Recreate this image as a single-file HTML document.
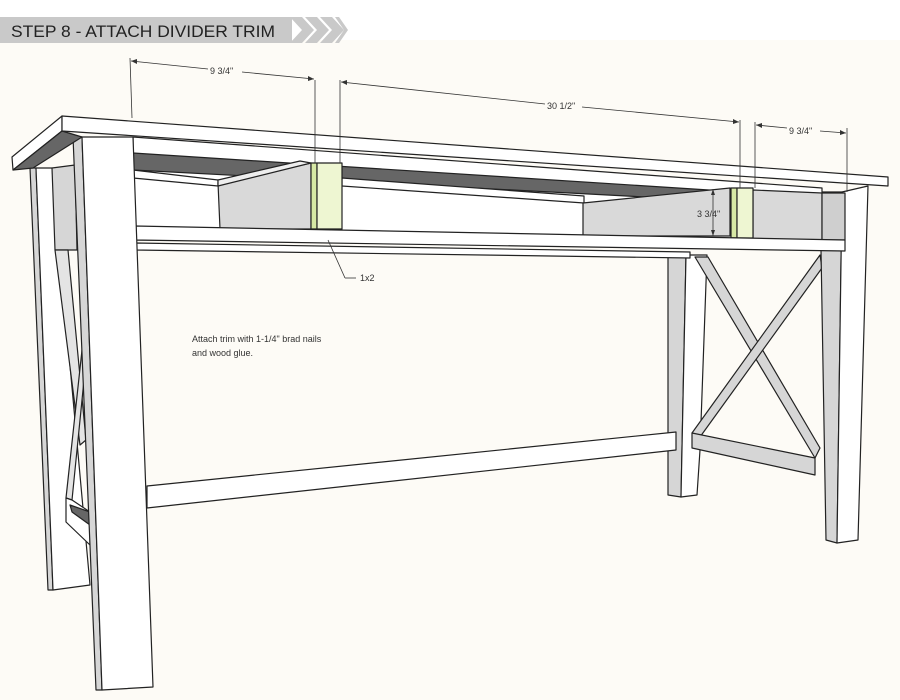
<!DOCTYPE html>
<html><head><meta charset="utf-8"><style>
html,body{margin:0;padding:0;background:#fff}
svg{display:block}
text{font-family:"Liberation Sans",sans-serif}
</style></head><body>
<svg width="900" height="700" viewBox="0 0 900 700" xmlns="http://www.w3.org/2000/svg">
<rect x="0" y="0" width="900" height="700" fill="#fdfbf6"/>
<rect x="0" y="0" width="900" height="40" fill="#ffffff"/>
<!-- banner -->
<rect x="0" y="17" width="292" height="26" fill="#c9c9c9"/>
<g fill="#c9c9c9">
<polygon points="290,17 302,17 314,30 302,43 290,43 302,30"/>
<polygon points="305,17 317,17 329,30 317,43 305,43 317,30"/>
<polygon points="320,17 332,17 344,30 332,43 320,43 332,30"/>
<polygon points="335,17 339,17 348,30 339,43 335,43 344,30"/>
</g>
<text x="11" y="37" font-size="17" fill="#222" textLength="264" lengthAdjust="spacingAndGlyphs">STEP 8 - ATTACH DIVIDER TRIM</text>

<g stroke="#222" stroke-width="1.2" stroke-linejoin="round">
<!-- back left leg -->
<polygon points="30,168 36,168 53,590 48,590" fill="#d6d6d6"/>
<polygon points="36,168 52,168 90,585 53,590" fill="#fff"/>
<polygon points="52,168 75,165 77,250 55,250" fill="#d6d6d6"/>
<!-- left X brace -->
<polygon points="55,250 68,250 86,440 80,445" fill="#e4e4e4"/>
<polygon points="82,350 86,360 72,500 66,498" fill="#e4e4e4"/>
<polygon points="66,498 72,500 90,512 90,545 66,522" fill="#fff"/>
<polygon points="70,505 90,512 90,525 72,512" fill="#666"/>
<!-- right middle leg -->
<polygon points="668,255 686,255 681,497 668,495" fill="#d6d6d6"/>
<polygon points="686,255 707,255 700,450 697,495 681,497" fill="#fff"/>
<!-- right X -->
<polygon points="695,257 708,257 820,448 815,458" fill="#d6d6d6"/>
<polygon points="820,255 822,268 700,437 692,433" fill="#d6d6d6"/>
<polygon points="692,433 815,458 815,475 692,448" fill="#d6d6d6"/>
<!-- right front leg -->
<polygon points="820,192 842,192 837,543 826,540" fill="#d6d6d6"/>
<polygon points="842,192 868,186 858,540 837,543" fill="#fff"/>
<!-- long stretcher -->
<polygon points="147,486 676,432 676,450 147,508" fill="#fff"/>
<!-- apron interior -->
<polygon points="133,137 822,188 822,240 133,240" fill="#fff"/>
<polygon points="133,153 740,192 740,202 133,170" fill="#666"/>
<polygon points="133,170 218,180 218,186 133,178" fill="#fff"/>
<polygon points="218,183 311,163 311,229 220,229" fill="#d9d9d9"/>
<polygon points="218,180 300,161 311,163 218,186" fill="#eee"/>
<polygon points="342,178 584,196 584,203 342,186" fill="#fff"/>
<polygon points="583,203 730,188 730,236 583,236" fill="#d9d9d9"/>
<polygon points="753,190 822,193 822,240 753,240" fill="#d9d9d9"/>
<polygon points="822,193 845,193 845,240 822,240" fill="#cfcfcf"/>
<!-- trims -->
<rect x="311" y="163" width="6" height="66" fill="#d6e8a4"/>
<rect x="317" y="163" width="25" height="66" fill="#eef6d2"/>
<rect x="731" y="188" width="6" height="50" fill="#d6e8a4"/>
<rect x="737" y="188" width="16" height="50" fill="#eef6d2"/>
<!-- shelf -->
<polygon points="135,226 845,240 845,251 135,240" fill="#fff"/>
<polygon points="135,243 690,252 690,258 135,250" fill="#fff"/>
<!-- front left leg -->
<polygon points="73,137 82,137 102,690 96,690" fill="#d6d6d6"/>
<polygon points="82,137 133,137 153,687 102,690" fill="#fff"/>
<!-- tabletop -->
<polygon points="12,157 62,116 62,131 13,170" fill="#fff"/>
<polygon points="13,170 62,131 82,137 33,168" fill="#666"/>
<polygon points="62,116 888,177 888,186 62,131" fill="#fff"/>
</g>

<!-- dimensions -->
<g stroke="#333" stroke-width="0.8" fill="none">
<line x1="130" y1="58" x2="132" y2="118"/>
<line x1="315" y1="80" x2="315" y2="163"/>
<line x1="340" y1="80" x2="340" y2="163"/>
<line x1="740" y1="120" x2="740" y2="188"/>
<line x1="755" y1="122" x2="755" y2="188"/>
<line x1="847" y1="128" x2="847" y2="192"/>
<line x1="131" y1="61" x2="208" y2="69"/><line x1="242" y1="72" x2="314" y2="79"/>
<line x1="341" y1="82" x2="545" y2="104"/><line x1="582" y1="107" x2="739" y2="122"/>
<line x1="756" y1="125" x2="787" y2="128"/><line x1="820" y1="131" x2="846" y2="133"/>
<line x1="713" y1="189" x2="713" y2="236"/>
<line x1="328" y1="240" x2="345" y2="278"/><line x1="345" y1="278" x2="356" y2="278"/>
</g>
<g fill="#333">
<polygon points="131,61 137,59 137,64"/><polygon points="314,79 308,76 308,81"/>
<polygon points="341,82 347,80 347,85"/><polygon points="739,122 733,119 733,124"/>
<polygon points="756,125 762,123 762,128"/><polygon points="846,133 840,130 840,135"/>
<polygon points="713,189 711,195 715,195"/><polygon points="713,236 711,230 715,230"/>
</g>
<g font-size="9" fill="#333">
<text x="210" y="74">9 3/4"</text>
<text x="547" y="109">30 1/2"</text>
<text x="789" y="134">9 3/4"</text>
<text x="697" y="217">3 3/4"</text>
<text x="360" y="281">1x2</text>
<text x="192" y="342">Attach trim with 1-1/4" brad nails</text>
<text x="192" y="356">and wood glue.</text>
</g>
</svg>
</body></html>
